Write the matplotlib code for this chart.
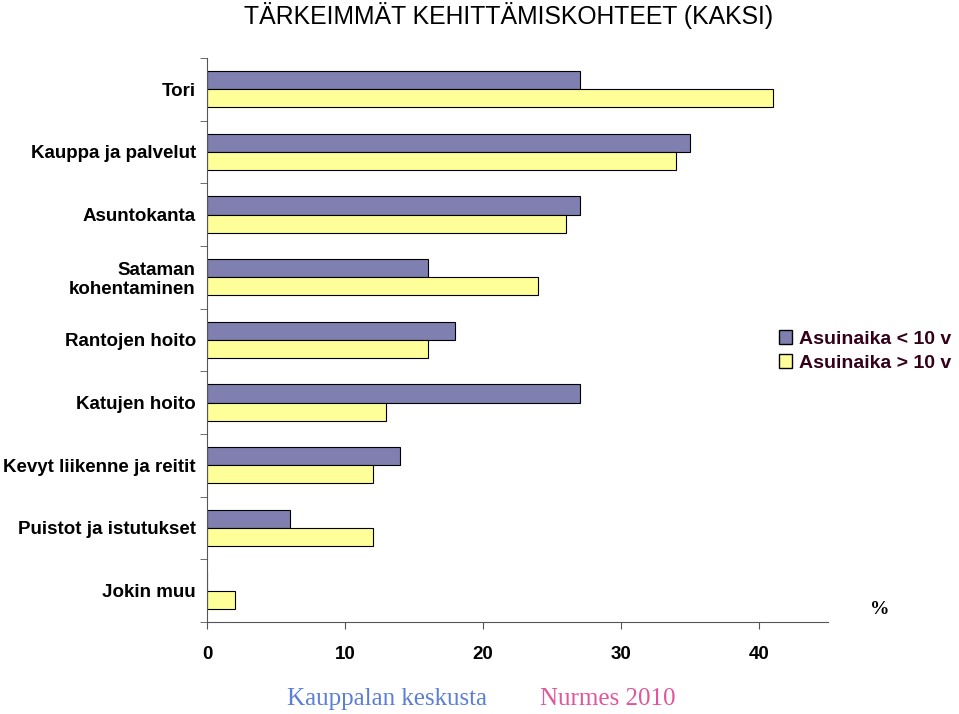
import matplotlib.pyplot as plt
import numpy as np
from matplotlib.patches import Patch

categories = ["Tori", "Kauppa ja palvelut", "Asuntokanta", "Sataman\nkohentaminen",
              "Rantojen hoito", "Katujen hoito", "Kevyt liikenne ja reitit",
              "Puistot ja istutukset", "Jokin muu"]
alle_10 = [27, 35, 27, 16, 18, 27, 14, 6, 0]
yli_10 = [41, 34, 26, 24, 16, 13, 12, 12, 2]
series_names = ["Asuinaika < 10 v", "Asuinaika > 10 v"]
xticks = [0, 10, 20, 30, 40]

purple = '#8080b0'
yellow = '#ffff99'

fig = plt.figure(figsize=(9.59, 7.14), dpi=100)
ax = fig.add_axes([0.2158, 0.1289, 0.6476, 0.7899])

y = np.arange(len(categories))
h = 0.29
ax.barh(y - h / 2, alle_10, height=h, color=purple, edgecolor='black', linewidth=0.8)
ax.barh(y + h / 2, yli_10, height=h, color=yellow, edgecolor='black', linewidth=0.8)

ax.set_ylim(len(categories) - 0.5, -0.5)
ax.set_xlim(0, 45)
ax.set_yticks(y)
ax.set_yticklabels(categories, fontsize=13.5, fontweight='bold', family='Liberation Sans',
                   ha='right', linespacing=1.1)
ax.set_yticks(np.arange(len(categories) + 1) - 0.5, minor=True)
ax.tick_params(axis='y', which='major', length=0, pad=8)
ax.tick_params(axis='y', which='minor', length=5, color='#555555')
ax.set_xticks(xticks)
ax.set_xticklabels([str(t) for t in xticks], fontsize=13.5, fontweight='bold', family='Liberation Sans')
ax.tick_params(axis='x', length=5, color='#555555', pad=12)
for s in ['top', 'right']:
    ax.spines[s].set_visible(False)
for s in ['left', 'bottom']:
    ax.spines[s].set_color('#555555')

fig.text(0.53, 0.978, "TÄRKEIMMÄT KEHITTÄMISKOHTEET (KAKSI)", ha='center', va='center',
         fontsize=17.8, family='Liberation Sans')

handles = [Patch(facecolor=purple, edgecolor='black'), Patch(facecolor=yellow, edgecolor='black')]
leg = fig.legend(handles, series_names, loc='center left', bbox_to_anchor=(0.812, 0.5085),
                 frameon=False, prop={'family': 'Liberation Sans', 'weight': 'bold', 'size': 14},
                 handlelength=0.7, handleheight=0.7, handletextpad=0.35, labelspacing=0.35,
                 borderaxespad=0, borderpad=0)
for t in leg.get_texts():
    t.set_color('#330019')

fig.text(0.917, 0.146, "%", fontsize=14, fontweight='bold', family='Liberation Serif',
         ha='center', va='center')
fig.text(0.404, 0.021, "Kauppalan keskusta", fontsize=18, family='Liberation Serif',
         color='#5b7fd8', ha='center', va='center')
fig.text(0.634, 0.021, "Nurmes 2010", fontsize=18, family='Liberation Serif',
         color='#e0559b', ha='center', va='center')

fig.savefig('out.png', dpi=100)
